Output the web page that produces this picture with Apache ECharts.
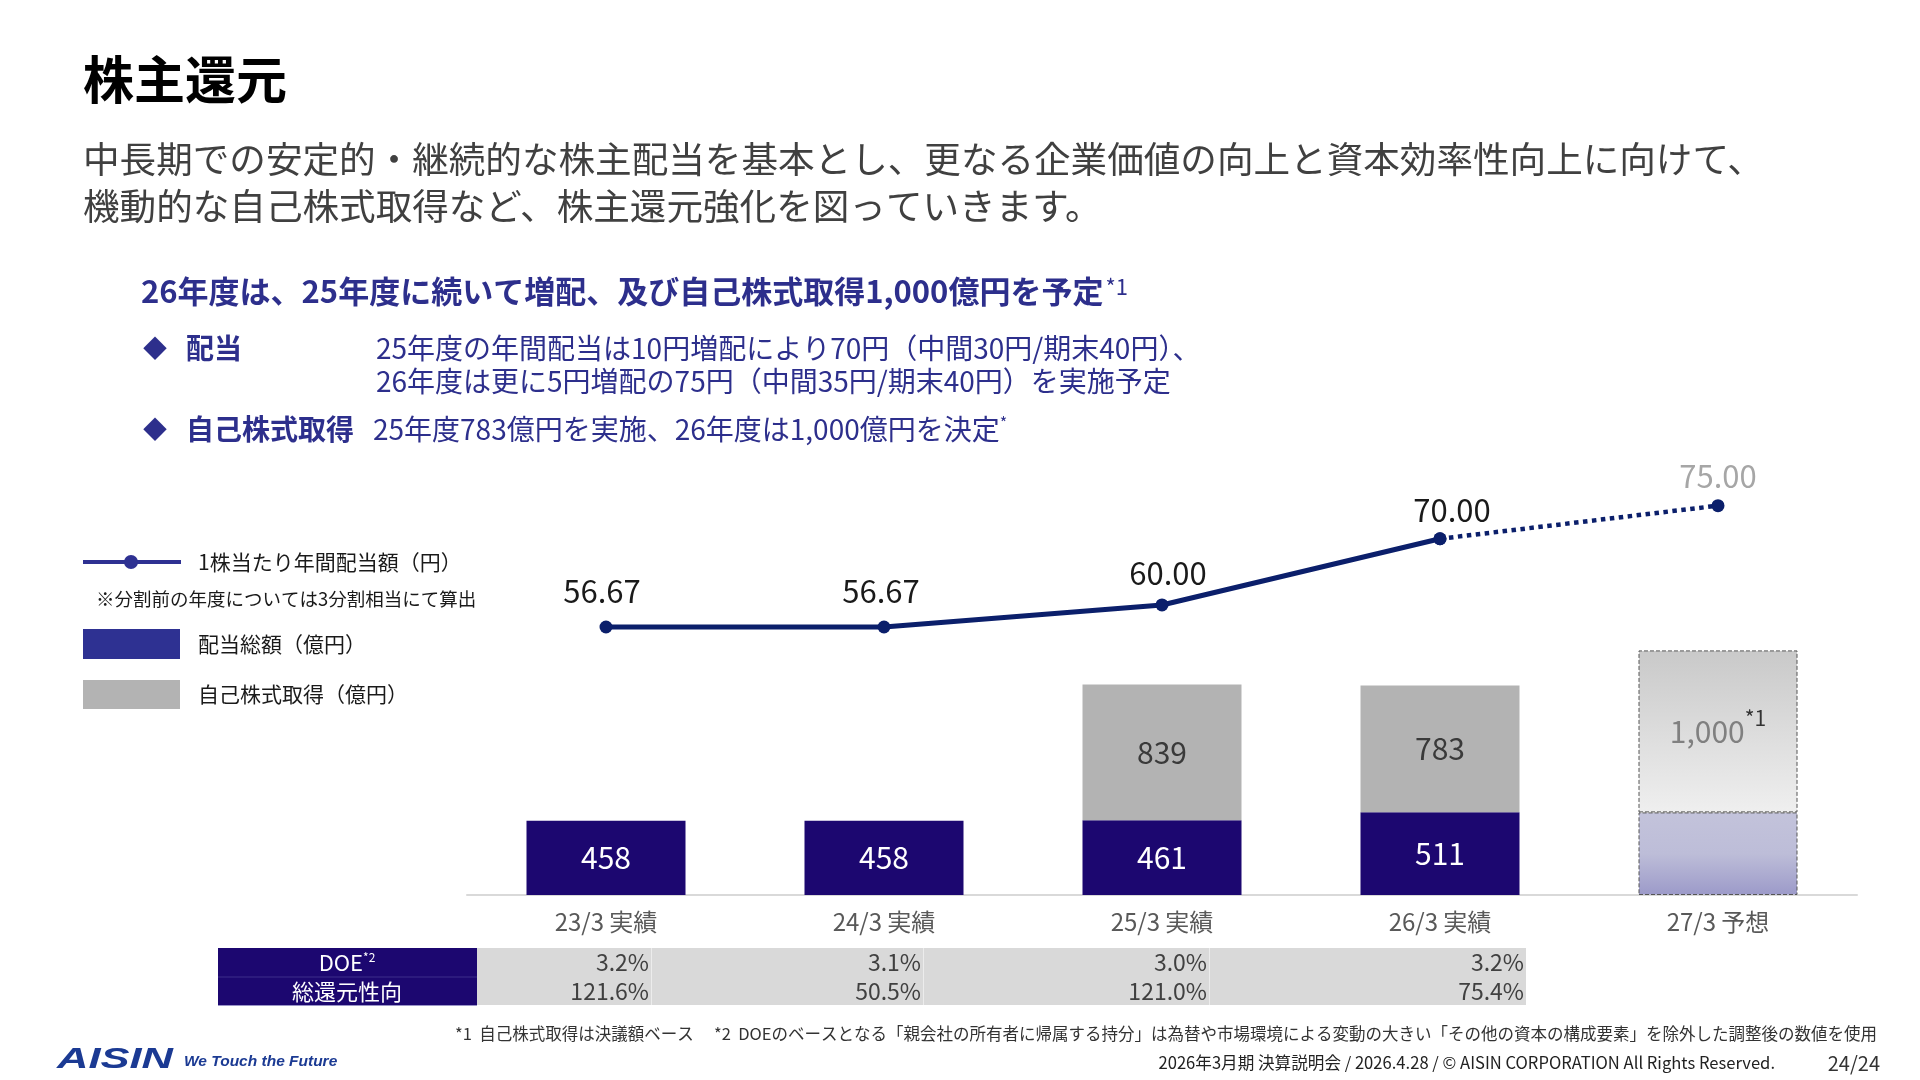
<!DOCTYPE html>
<html lang="ja">
<head>
<meta charset="utf-8">
<title>株主還元</title>
<script src="https://cdn.jsdelivr.net/npm/echarts@6/dist/echarts.min.js"></script>
<style>
  html, body { margin: 0; padding: 0; background: #fff; }
  #chart { width: 1920px; height: 1080px; }
</style>
</head>
<body>
<div id="chart"></div>
<script>
// ---- data ----
const categories = ['23/3 実績', '24/3 実績', '25/3 実績', '26/3 実績', '27/3 予想'];
const dividendTotal = [458, 458, 461, 511, 510];   // 配当総額（億円）
const buyback = [null, null, 839, 783, 1000];       // 自己株式取得（億円）
const dps = [56.67, 56.67, 60.00, 70.00, 75.00];    // 1株当たり年間配当額（円）
const forecastIndex = 4;
const tableHeads = ['DOE', '総還元性向'];
const doeValues = ['3.2%', '3.1%', '3.0%', '3.2%'];
const payoutValues = ['121.6%', '50.5%', '121.0%', '75.4%'];

const FONT = "'Noto Sans CJK JP', 'Noto Sans', sans-serif";
const NAVY = '#1c0770';
const LINE = '#0b1f6b';
const BLUE_TXT = '#2d2f8c';

function txt(x, y, text, size, color, extra) {
  const style = Object.assign({
    text: text, fill: color, fontSize: size, fontFamily: FONT,
    align: 'left', verticalAlign: 'middle',
    textAlign: 'left', textVerticalAlign: 'middle'
  }, extra || {});
  if (style.align !== 'left') style.textAlign = style.align;
  return { type: 'text', x: x, y: y, silent: true, style: style };
}

let fmt = v => Number(v).toLocaleString('en-US');

// bars
let divData = dividendTotal.map((v, i) => {
  if (i !== forecastIndex) return v;
  return {
    value: v,
    label: { show: false },
    itemStyle: {
      color: new echarts.graphic.LinearGradient(0, 0, 0, 1, [
        { offset: 0, color: '#c3c3db' },
        { offset: 0.5, color: '#bdbdd8' },
        { offset: 1, color: '#9c9ac9' }
      ]),
      borderColor: '#555', borderType: 'dashed', borderWidth: 1
    }
  };
});
let bbData = buyback.map((v, i) => {
  if (i !== forecastIndex) return v;
  return {
    value: v,
    itemStyle: {
      color: new echarts.graphic.LinearGradient(0, 0, 0, 1, [
        { offset: 0, color: '#c9c9c9' },
        { offset: 1, color: '#efefef' }
      ]),
      borderColor: '#555', borderType: 'dashed', borderWidth: 1
    }
  };
});

// line: solid for results, dotted to forecast
let labelNudge = [[-4, -7], [-3, -7], [6, -3], [12, 0]];
let solidData = dps.map((v, i) => {
  if (i >= forecastIndex) return null;
  return { value: v, label: { offset: labelNudge[i] } };
});
let dottedData = dps.map((v, i) => {
  if (i < forecastIndex - 1) return null;
  if (i === forecastIndex) return { value: v, label: { show: true } };
  return { value: v, label: { show: false } };
});

// ---- static page elements ----
let g = [];
g.push(txt(83, 80, '株主還元', 51, '#000', { fontWeight: 'bold' }));
g.push(txt(83, 159, '中長期での安定的・継続的な株主配当を基本とし、更なる企業価値の向上と資本効率性向上に向けて、', 36.6, '#404040'));
g.push(txt(83, 206, '機動的な自己株式取得など、株主還元強化を図っていきます。', 36.6, '#404040'));
g.push(txt(141, 291, '{a|26年度は、25年度に続いて増配、及び自己株式取得1,000億円を予定}{s|*1}', 31, BLUE_TXT, {
  rich: {
    a: { fontSize: 31, fontWeight: 'bold', fill: BLUE_TXT, fontFamily: FONT },
    s: { fontSize: 22, fill: BLUE_TXT, fontFamily: FONT, verticalAlign: 'top', padding: [0, 0, 8, 2] }
  }
}));
g.push(txt(143, 348, '◆', 24, BLUE_TXT));
g.push(txt(186, 348, '配当', 28, BLUE_TXT, { fontWeight: 'bold' }));
g.push(txt(376, 348, '25年度の年間配当は10円増配により70円（中間30円/期末40円）、', 28, BLUE_TXT));
g.push(txt(376, 381, '26年度は更に5円増配の75円（中間35円/期末40円）を実施予定', 28, BLUE_TXT));
g.push(txt(143, 429, '◆', 24, BLUE_TXT));
g.push(txt(186, 429, '自己株式取得', 28, BLUE_TXT, { fontWeight: 'bold' }));
g.push(txt(373, 429, '{a|25年度783億円を実施、26年度は1,000億円を決定}{s|*}', 28, BLUE_TXT, {
  rich: {
    a: { fontSize: 28, fill: BLUE_TXT, fontFamily: FONT },
    s: { fontSize: 16, fill: BLUE_TXT, fontFamily: FONT, verticalAlign: 'top', padding: [0, 0, 12, 0] }
  }
}));

// legend
g.push({ type: 'line', silent: true, shape: { x1: 83, y1: 562, x2: 181, y2: 562 }, style: { stroke: '#2e3192', lineWidth: 4 } });
g.push({ type: 'circle', silent: true, shape: { cx: 131, cy: 562, r: 7 }, style: { fill: '#2e3192' } });
g.push(txt(198, 562, '1株当たり年間配当額（円）', 21, '#1a1a1a'));
g.push(txt(96, 599, '※分割前の年度については3分割相当にて算出', 18.5, '#1a1a1a'));
g.push({ type: 'rect', silent: true, shape: { x: 83, y: 629, width: 97, height: 30 }, style: { fill: '#2e3192' } });
g.push(txt(198, 644, '配当総額（億円）', 21, '#1a1a1a'));
g.push({ type: 'rect', silent: true, shape: { x: 83, y: 680, width: 97, height: 29 }, style: { fill: '#b3b3b3' } });
g.push(txt(198, 694, '自己株式取得（億円）', 21, '#1a1a1a'));

// table
const colEdges = [477, 651, 923, 1209, 1526];
const rowTops = [948, 977];
const rowH = 28.5;
g.push({ type: 'rect', silent: true, shape: { x: 218, y: 948, width: 259, height: 57 }, style: { fill: NAVY } });
g.push({ type: 'rect', silent: true, shape: { x: 477, y: 948, width: 1049, height: 57 }, style: { fill: '#d9d9d9' } });
g.push({ type: 'line', silent: true, shape: { x1: 218, y1: 977, x2: 477, y2: 977 }, style: { stroke: '#3d2f8a', lineWidth: 1 } });
g.push({ type: 'line', silent: true, shape: { x1: 218, y1: 1005.5, x2: 477, y2: 1005.5 }, style: { stroke: '#9a94c8', lineWidth: 1 } });
for (let c = 1; c < colEdges.length - 1; c++) {
  g.push({ type: 'line', silent: true, shape: { x1: colEdges[c] + 0.5, y1: 948, x2: colEdges[c] + 0.5, y2: 1005 }, style: { stroke: '#ececec', lineWidth: 1 } });
}
g.push(txt(347, rowTops[0] + rowH / 2, '{a|' + tableHeads[0] + '}{s|*2}', 22, '#fff', {
  align: 'center',
  rich: {
    a: { fontSize: 22, fill: '#fff', fontFamily: FONT },
    s: { fontSize: 12, fill: '#fff', fontFamily: FONT, verticalAlign: 'top', padding: [0, 0, 8, 0] }
  }
}));
g.push(txt(347, rowTops[1] + rowH / 2, tableHeads[1], 22, '#fff', { align: 'center' }));
[doeValues, payoutValues].forEach((row, r) => {
  row.forEach((v, c) => {
    g.push(txt(colEdges[c + 1] - 2, rowTops[r] + rowH / 2, v, 23, '#404040', { align: 'right' }));
  });
});

// footer
g.push(txt(1877, 1034, '*1  自己株式取得は決議額ベース　 *2  DOEのベースとなる「親会社の所有者に帰属する持分」は為替や市場環境による変動の大きい「その他の資本の構成要素」を除外した調整後の数値を使用', 16.5, '#333', { align: 'right' }));
g.push(txt(1775, 1063, '2026年3月期 決算説明会 / 2026.4.28 / © AISIN CORPORATION All Rights Reserved.', 16.6, '#222', { align: 'right' }));
g.push(txt(1880, 1063, '24/24', 20, '#333', { align: 'right' }));
g.push({ type: 'text', silent: true, x: 57, y: 1060, scaleX: 1.45, style: {
  text: 'AISIN', fill: '#1b3a93', fontSize: 30, fontWeight: 'bold', fontStyle: 'italic',
  fontFamily: "'Liberation Sans', Arial, sans-serif", verticalAlign: 'middle', textVerticalAlign: 'middle'
} });
g.push(txt(184, 1062, 'We Touch the Future', 15.5, '#1b3a93', { fontWeight: 'bold', fontStyle: 'italic', fontFamily: "'Liberation Sans', Arial, sans-serif" }));

// ---- chart ----
let chart = echarts.init(document.getElementById('chart'));
let option = {
  animation: false,
  backgroundColor: '#fff',
  textStyle: { fontFamily: FONT },
  grid: { left: 467, right: 63, top: 400, bottom: 185 },
  xAxis: {
    type: 'category',
    data: categories,
    axisLine: { lineStyle: { color: '#d9d9d9', width: 2 } },
    axisTick: { show: false },
    axisLabel: { fontSize: 24, color: '#595959', margin: 15 }
  },
  yAxis: [
    { type: 'value', min: 0, max: 3056, show: false, splitLine: { show: false } },
    { type: 'value', min: 16.19, max: 90.96, show: false, splitLine: { show: false } }
  ],
  series: [
    {
      name: '配当総額（億円）', type: 'bar', stack: 'amt', barWidth: 159,
      itemStyle: { color: NAVY },
      label: { show: true, position: 'inside', fontSize: 30, color: '#fff' },
      data: divData
    },
    {
      name: '自己株式取得（億円）', type: 'bar', stack: 'amt', barWidth: 159,
      itemStyle: { color: '#b3b3b3' },
      label: {
        show: true, position: 'inside',
        formatter: p => p.dataIndex === forecastIndex
          ? '{f|' + fmt(p.value) + '}{s|*1}'
          : '{n|' + p.value + '}',
        rich: {
          n: { fontSize: 30, color: '#3a3a3a' },
          f: { fontSize: 30, color: '#808080' },
          s: { fontSize: 21, color: '#333', verticalAlign: 'top', padding: [0, 0, 26, 0] }
        }
      },
      data: bbData
    },
    {
      name: '1株当たり年間配当額（円）', type: 'line', yAxisIndex: 1,
      symbol: 'circle', symbolSize: 13,
      itemStyle: { color: LINE },
      lineStyle: { color: LINE, width: 5 },
      label: { show: true, position: 'top', distance: 7, fontSize: 31, color: '#1a1a1a', formatter: p => Number(p.value).toFixed(2) },
      data: solidData
    },
    {
      name: '予想', type: 'line', yAxisIndex: 1,
      symbol: 'circle', symbolSize: 13,
      itemStyle: { color: LINE },
      lineStyle: { color: LINE, width: 4.5, type: 'dotted' },
      label: { show: true, position: 'top', distance: 7, fontSize: 31, color: '#a6a6a6', formatter: p => Number(p.value).toFixed(2) },
      data: dottedData
    }
  ],
  graphic: { elements: g }
};
chart.setOption(option);
</script>
</body>
</html>
